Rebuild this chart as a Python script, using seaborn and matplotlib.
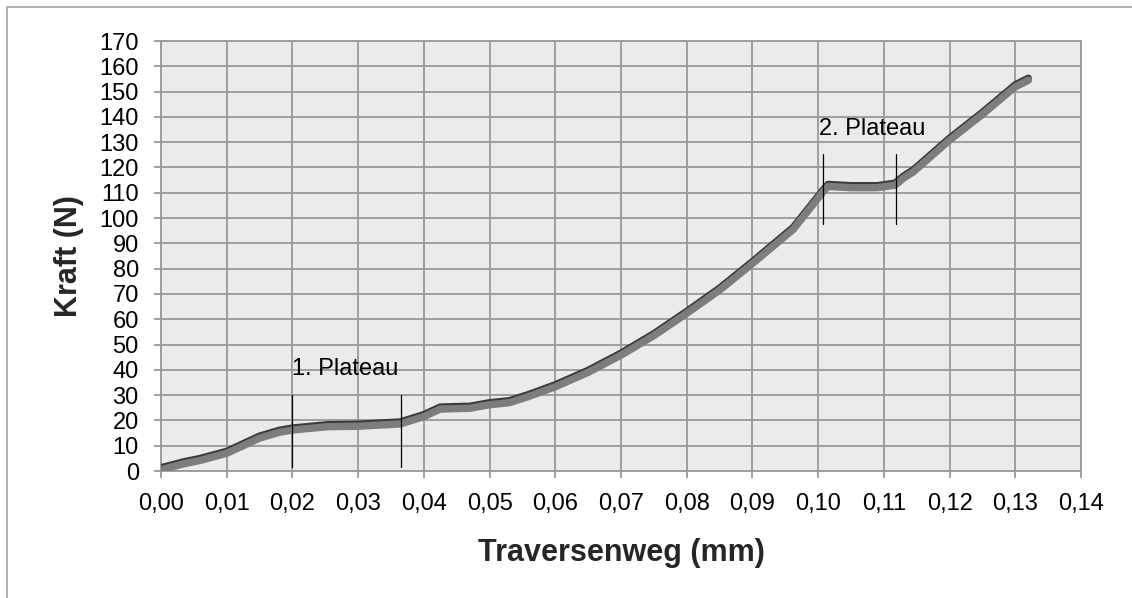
import matplotlib
matplotlib.use("Agg")
import matplotlib.pyplot as plt
import matplotlib.patheffects as pe
from matplotlib.lines import Line2D
import seaborn as sns
import pandas as pd
import numpy as np

# ---- data ----
weg_mm = [0.000, 0.0034, 0.006, 0.010, 0.015, 0.018, 0.020, 0.0253, 0.030, 0.0364,
          0.040, 0.0425, 0.047, 0.050, 0.053, 0.056, 0.060, 0.065, 0.070, 0.075,
          0.080, 0.085, 0.090, 0.0962, 0.1008, 0.1015, 0.105, 0.109, 0.1117, 0.113,
          0.1145, 0.120, 0.125, 0.130, 0.132]
kraft_n = [0.5, 2.8, 4.2, 7.0, 13.0, 15.3, 16.2, 17.5, 17.7, 18.6,
           21.5, 24.5, 24.8, 26.2, 27.0, 29.5, 33.3, 39.0, 45.8, 53.5,
           62.3, 71.5, 82.0, 95.5, 110.5, 112.5, 112.0, 112.0, 113.0, 115.8,
           118.3, 130.8, 141.0, 151.9, 154.5]

plateau_labels = ["1. Plateau", "2. Plateau"]
plateau_x = [[0.0199, 0.0365], [0.1008, 0.1119]]
plateau_y = [[1.5, 30.0], [97.5, 125.5]]
plateau_text_pos = [(0.0199, 40.3), (0.1002, 135.2)]

x_ticks = [round(i * 0.01, 2) for i in range(15)]
x_tick_labels = [f"{v:.2f}".replace(".", ",") for v in x_ticks]
y_ticks = list(range(0, 171, 10))

df = pd.DataFrame({"Traversenweg (mm)": weg_mm, "Kraft (N)": kraft_n})

sns.set_style("whitegrid", {
    "axes.facecolor": "#ebebeb",
    "grid.color": "#999999",
    "axes.edgecolor": "#999999",
})
plt.rcParams["font.family"] = ["Liberation Sans", "DejaVu Sans"]

fig = plt.figure(figsize=(11.32, 5.98), dpi=100)
ax = fig.add_axes([161 / 1132, 1 - 471 / 598, 920 / 1132, 430 / 598])

sns.lineplot(data=df, x="Traversenweg (mm)", y="Kraft (N)", ax=ax,
             color="#7d7d7d", linewidth=5.3, solid_capstyle="round",
             solid_joinstyle="round",
             path_effects=[pe.Stroke(offset=(0, 1.6), linewidth=5.0, foreground="#3a3a3a"),
                           pe.Normal()], zorder=3)

for lab, xs, ys, (tx, ty) in zip(plateau_labels, plateau_x, plateau_y, plateau_text_pos):
    for xv in xs:
        ax.plot([xv, xv], ys, color="black", linewidth=0.9, zorder=4)
    ax.text(tx, ty, lab, fontsize=17, ha="left", va="center", color="black", zorder=5)

ax.set_xlim(0, 0.14)
ax.set_ylim(0, 170)
ax.set_xticks(x_ticks)
ax.set_xticklabels(x_tick_labels)
ax.set_yticks(y_ticks)
ax.grid(True, color="#999999", linewidth=1.3)
ax.tick_params(axis="both", which="major", length=5, width=1.3, color="#999999",
               labelsize=17, pad=11, labelcolor="black")
ax.tick_params(axis="x", bottom=True)
ax.tick_params(axis="y", left=True)
for s in ax.spines.values():
    s.set_color("#999999")
    s.set_linewidth(1.3)

ax.set_xlabel("Traversenweg (mm)", fontsize=22, fontweight="bold")
ax.set_ylabel("Kraft (N)", fontsize=22, fontweight="bold")
ax.xaxis.label.set_va("center")
ax.yaxis.label.set_va("center")
ax.xaxis.set_label_coords(0.5, -0.19)
ax.yaxis.set_label_coords(-0.100, 0.5)

# outer chart border (left and top edges visible)
fig.add_artist(Line2D([7 / 1132, 7 / 1132], [0, 1 - 7 / 598], transform=fig.transFigure,
                      color="#a6a6a6", linewidth=1.2))
fig.add_artist(Line2D([7 / 1132, 1], [1 - 7 / 598, 1 - 7 / 598], transform=fig.transFigure,
                      color="#a6a6a6", linewidth=1.2))

fig.savefig("out.png", dpi=100)
